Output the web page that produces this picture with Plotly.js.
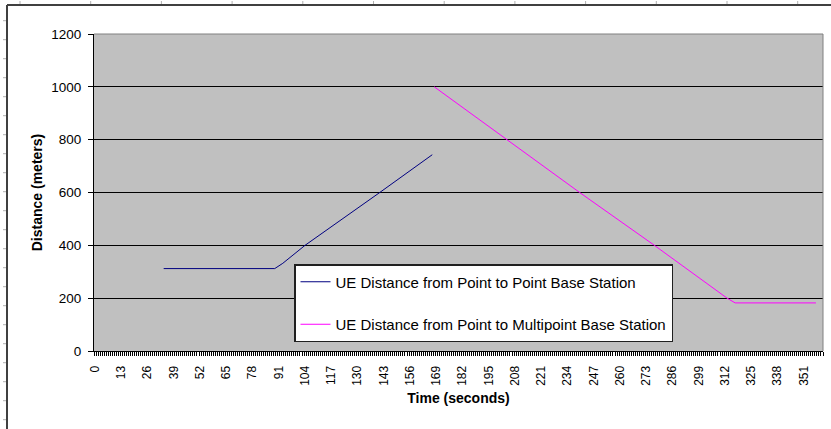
<!DOCTYPE html>
<html>
<head>
<meta charset="utf-8">
<script src="https://cdn.plot.ly/plotly-3.0.1.min.js"></script>
<style>html,body{margin:0;padding:0;background:#fff;}#chart{width:831px;height:429px;}</style>
</head>
<body>
<div id="chart"></div>
<script>
// Data
const timeTicks = [0,13,26,39,52,65,78,91,104,117,130,143,156,169,182,195,208,221,234,247,260,273,286,299,312,325,338,351];
const p2pName = "UE Distance from Point to Point Base Station";
const p2pTime = [34, 89, 93, 104, 141, 167];
const p2pDist = [312, 312, 332, 400, 600, 743];
const p2mpName = "UE Distance from Point to Multipoint Base Station";
const p2mpTime = [168, 204, 240, 277, 313, 317, 357];
const p2mpDist = [1000, 800, 600, 400, 200, 182, 182];
const yTicks = [0, 200, 400, 600, 800, 1000, 1200];

// layout geometry (pixels)
const W = 831, H = 429;
const L = 94, R = 823, T = 34, B = 351;
const px = x => (x - L) / (R - L);
const py = y => (B - y) / (B - T);

const shapes = [];
// plot area top/right border
shapes.push({type:'line', xref:'paper', yref:'paper', x0:0, x1:1, y0:1, y1:1, line:{color:'#808080', width:1}});
shapes.push({type:'line', xref:'paper', yref:'paper', x0:1, x1:1, y0:0, y1:1, line:{color:'#808080', width:1}});
// outer chart frame
shapes.push({type:'line', xref:'paper', yref:'paper', x0:px(7), x1:px(W), y0:py(5), y1:py(5), line:{color:'#404040', width:2}});
shapes.push({type:'line', xref:'paper', yref:'paper', x0:px(7), x1:px(7), y0:py(5), y1:py(H), line:{color:'#404040', width:2}});
for (let x = 20; x < W; x += 70.7) {
  shapes.push({type:'line', xref:'paper', yref:'paper', x0:px(x), x1:px(x), y0:py(1), y1:py(4), line:{color:'#b0b0b0', width:1}});
}
for (let y = 20.7; y < H; y += 19) {
  shapes.push({type:'line', xref:'paper', yref:'paper', x0:px(3), x1:px(6), y0:py(y), y1:py(y), line:{color:'#b0b0b0', width:1}});
}

const traces = [
  {x: p2pTime, y: p2pDist, name: p2pName, type:'scatter', mode:'lines', line:{color:'#000080', width:1}, legendgroup:'a'},
  {x: p2mpTime, y: p2mpDist, name: p2mpName, type:'scatter', mode:'lines', line:{color:'#ff00ff', width:1}, legendgroup:'b'}
];

const font = "Arial, 'Liberation Sans', sans-serif";
const layout = {
  width: W, height: H,
  margin: {l: L, r: W - R, t: T, b: H - B, pad: 0},
  paper_bgcolor: '#ffffff',
  plot_bgcolor: '#c0c0c0',
  font: {family: font, color: '#000', size: 12},
  showlegend: true,
  legend: {
    x: px(294), y: py(264), xanchor: 'left', yanchor: 'top',
    bgcolor: '#ffffff', bordercolor: '#202020', borderwidth: 1.5,
    font: {family: font, size: 15, color: '#000'},
    traceorder: 'grouped', tracegroupgap: 20,
    entrywidth: 338
  },
  xaxis: {
    range: [-0.5, 360.5],
    tickmode: 'array', tickvals: timeTicks, ticktext: timeTicks.map(String),
    tickangle: -90,
    ticks: '', ticklabelstandoff: 9,
    tickfont: {family: font, size: 12, color: '#000'},
    minor: {tickmode: 'linear', tick0: -0.5, dtick: 1, ticks: 'outside', ticklen: 4, tickcolor: '#000', tickwidth: 1, showgrid: false},
    showline: true, linecolor: '#000', linewidth: 1,
    showgrid: false, zeroline: false,
    title: {text: '<b>Time (seconds)</b>', font: {family: font, size: 14, color: '#000'}, standoff: 8}
  },
  yaxis: {
    range: [0, 1200],
    tickmode: 'array', tickvals: yTicks,
    ticks: 'outside', ticklen: 5, tickcolor: '#000', ticklabelstandoff: 4,
    tickfont: {family: font, size: 13.5, color: '#000'},
    showline: true, linecolor: '#000', linewidth: 1,
    showgrid: true, gridcolor: '#000', gridwidth: 1,
    zeroline: false,
    title: {text: '<b>Distance (meters)</b>', font: {family: font, size: 14, color: '#000'}, standoff: 5}
  },
  shapes: shapes
};

Plotly.newPlot('chart', traces, layout, {displayModeBar: false, staticPlot: true});
</script>
</body>
</html>
